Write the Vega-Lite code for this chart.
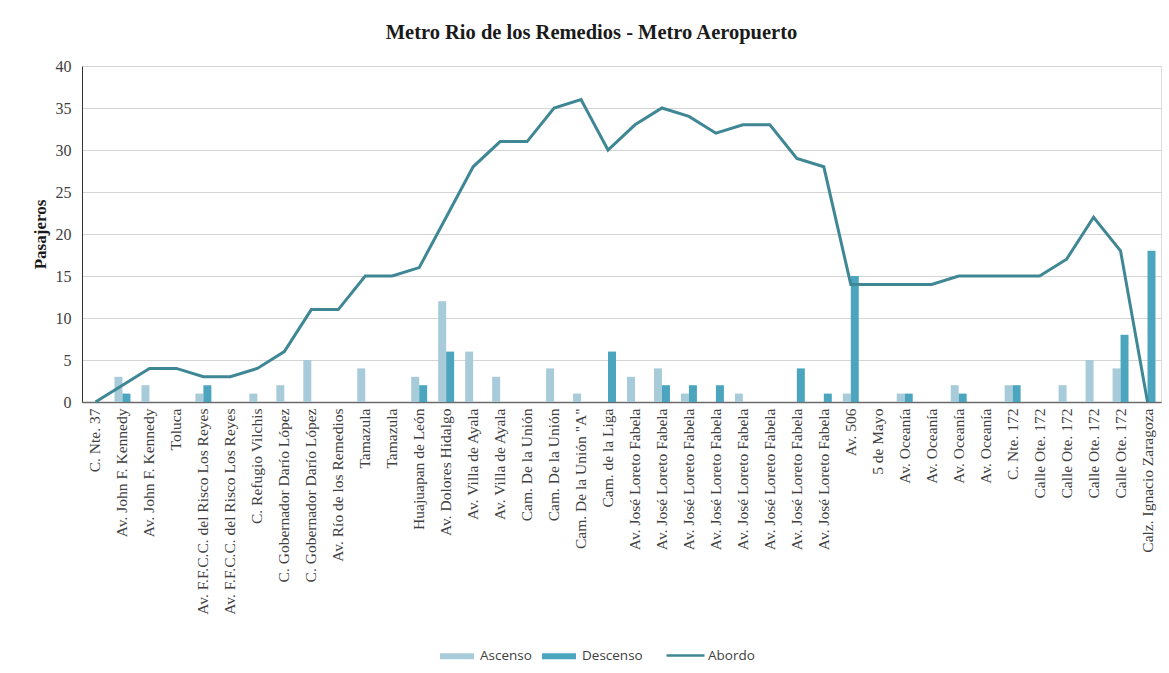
{
  "$schema": "https://vega.github.io/schema/vega-lite/v6.json",
  "width": 1079,
  "height": 336,
  "autosize": {"type": "none"},
  "padding": {"left": 82, "top": 66, "right": 8, "bottom": 271},
  "background": "white",
  "title": {"text": "Metro Rio de los Remedios  - Metro Aeropuerto", "font": "Liberation Serif", "fontSize": 20.5, "fontWeight": "bold", "color": "#1a1a1a", "anchor": "middle", "frame": "group", "dx": -30, "offset": -1, "baseline": "alphabetic"},
  "data": {"values": [
    {"i": 1, "estacion": "C. Nte. 37", "Ascenso": 0, "Descenso": 0, "Abordo": 0},
    {"i": 2, "estacion": "Av. John F. Kennedy", "Ascenso": 3, "Descenso": 1, "Abordo": 2},
    {"i": 3, "estacion": "Av. John F. Kennedy", "Ascenso": 2, "Descenso": 0, "Abordo": 4},
    {"i": 4, "estacion": "Toluca", "Ascenso": 0, "Descenso": 0, "Abordo": 4},
    {"i": 5, "estacion": "Av. F.F.C.C. del Risco Los Reyes", "Ascenso": 1, "Descenso": 2, "Abordo": 3},
    {"i": 6, "estacion": "Av. F.F.C.C. del Risco Los Reyes", "Ascenso": 0, "Descenso": 0, "Abordo": 3},
    {"i": 7, "estacion": "C. Refugio Vilchis", "Ascenso": 1, "Descenso": 0, "Abordo": 4},
    {"i": 8, "estacion": "C. Gobernador Darío López", "Ascenso": 2, "Descenso": 0, "Abordo": 6},
    {"i": 9, "estacion": "C. Gobernador Darío López", "Ascenso": 5, "Descenso": 0, "Abordo": 11},
    {"i": 10, "estacion": "Av. Río de los Remedios", "Ascenso": 0, "Descenso": 0, "Abordo": 11},
    {"i": 11, "estacion": "Tamazula", "Ascenso": 4, "Descenso": 0, "Abordo": 15},
    {"i": 12, "estacion": "Tamazula", "Ascenso": 0, "Descenso": 0, "Abordo": 15},
    {"i": 13, "estacion": "Huajuapan de León", "Ascenso": 3, "Descenso": 2, "Abordo": 16},
    {"i": 14, "estacion": "Av. Dolores Hidalgo", "Ascenso": 12, "Descenso": 6, "Abordo": 22},
    {"i": 15, "estacion": "Av. Villa de Ayala", "Ascenso": 6, "Descenso": 0, "Abordo": 28},
    {"i": 16, "estacion": "Av. Villa de Ayala", "Ascenso": 3, "Descenso": 0, "Abordo": 31},
    {"i": 17, "estacion": "Cam. De la Unión", "Ascenso": 0, "Descenso": 0, "Abordo": 31},
    {"i": 18, "estacion": "Cam. De la Unión", "Ascenso": 4, "Descenso": 0, "Abordo": 35},
    {"i": 19, "estacion": "Cam. De la Unión \"A\"", "Ascenso": 1, "Descenso": 0, "Abordo": 36},
    {"i": 20, "estacion": "Cam. de la Liga", "Ascenso": 0, "Descenso": 6, "Abordo": 30},
    {"i": 21, "estacion": "Av. José Loreto Fabela", "Ascenso": 3, "Descenso": 0, "Abordo": 33},
    {"i": 22, "estacion": "Av. José Loreto Fabela", "Ascenso": 4, "Descenso": 2, "Abordo": 35},
    {"i": 23, "estacion": "Av. José Loreto Fabela", "Ascenso": 1, "Descenso": 2, "Abordo": 34},
    {"i": 24, "estacion": "Av. José Loreto Fabela", "Ascenso": 0, "Descenso": 2, "Abordo": 32},
    {"i": 25, "estacion": "Av. José Loreto Fabela", "Ascenso": 1, "Descenso": 0, "Abordo": 33},
    {"i": 26, "estacion": "Av. José Loreto Fabela", "Ascenso": 0, "Descenso": 0, "Abordo": 33},
    {"i": 27, "estacion": "Av. José Loreto Fabela", "Ascenso": 0, "Descenso": 4, "Abordo": 29},
    {"i": 28, "estacion": "Av. José Loreto Fabela", "Ascenso": 0, "Descenso": 1, "Abordo": 28},
    {"i": 29, "estacion": "Av. 506", "Ascenso": 1, "Descenso": 15, "Abordo": 14},
    {"i": 30, "estacion": "5 de Mayo", "Ascenso": 0, "Descenso": 0, "Abordo": 14},
    {"i": 31, "estacion": "Av. Oceanía", "Ascenso": 1, "Descenso": 1, "Abordo": 14},
    {"i": 32, "estacion": "Av. Oceanía", "Ascenso": 0, "Descenso": 0, "Abordo": 14},
    {"i": 33, "estacion": "Av. Oceanía", "Ascenso": 2, "Descenso": 1, "Abordo": 15},
    {"i": 34, "estacion": "Av. Oceanía", "Ascenso": 0, "Descenso": 0, "Abordo": 15},
    {"i": 35, "estacion": "C. Nte. 172", "Ascenso": 2, "Descenso": 2, "Abordo": 15},
    {"i": 36, "estacion": "Calle Ote. 172", "Ascenso": 0, "Descenso": 0, "Abordo": 15},
    {"i": 37, "estacion": "Calle Ote. 172", "Ascenso": 2, "Descenso": 0, "Abordo": 17},
    {"i": 38, "estacion": "Calle Ote. 172", "Ascenso": 5, "Descenso": 0, "Abordo": 22},
    {"i": 39, "estacion": "Calle Ote. 172", "Ascenso": 4, "Descenso": 8, "Abordo": 18},
    {"i": 40, "estacion": "Calz. Ignacio Zaragoza", "Ascenso": 0, "Descenso": 18, "Abordo": 0}
  ]},
  "encoding": {
    "x": {
      "field": "i", "type": "ordinal",
      "scale": {"paddingInner": 0, "paddingOuter": 0},
      "axis": {
        "title": null, "labelAngle": -90, "ticks": false, "grid": false,
        "domainColor": "#6b6b6b", "domainWidth": 1.5,
        "labelFont": "Liberation Serif", "labelFontSize": 15.5, "labelColor": "#404040",
        "labelPadding": 6, "labelLimit": 300,
        "labelExpr": "['C. Nte. 37','Av. John F. Kennedy','Av. John F. Kennedy','Toluca','Av. F.F.C.C. del Risco Los Reyes','Av. F.F.C.C. del Risco Los Reyes','C. Refugio Vilchis','C. Gobernador Darío López','C. Gobernador Darío López','Av. Río de los Remedios','Tamazula','Tamazula','Huajuapan de León','Av. Dolores Hidalgo','Av. Villa de Ayala','Av. Villa de Ayala','Cam. De la Unión','Cam. De la Unión','Cam. De la Unión \"A\"','Cam. de la Liga','Av. José Loreto Fabela','Av. José Loreto Fabela','Av. José Loreto Fabela','Av. José Loreto Fabela','Av. José Loreto Fabela','Av. José Loreto Fabela','Av. José Loreto Fabela','Av. José Loreto Fabela','Av. 506','5 de Mayo','Av. Oceanía','Av. Oceanía','Av. Oceanía','Av. Oceanía','C. Nte. 172','Calle Ote. 172','Calle Ote. 172','Calle Ote. 172','Calle Ote. 172','Calz. Ignacio Zaragoza'][datum.value - 1]"
      }
    }
  },
  "layer": [
    {
      "transform": [{"fold": ["Ascenso", "Descenso"], "as": ["serie", "valor"]}],
      "mark": {"type": "bar"},
      "encoding": {
        "xOffset": {"field": "serie", "type": "nominal", "scale": {"paddingInner": 0, "paddingOuter": 0.69}},
        "y": {
          "field": "valor", "type": "quantitative",
          "scale": {"domain": [0, 40]},
          "axis": {
            "title": "Pasajeros", "values": [0, 5, 10, 15, 20, 25, 30, 35, 40],
            "ticks": false, "grid": true, "gridColor": "#d4d4d4",
            "domainColor": "#333333", "labelPadding": 11,
            "labelFont": "Liberation Serif", "labelFontSize": 16, "labelColor": "#404040",
            "titleFont": "Liberation Serif", "titleFontSize": 17, "titleFontWeight": "bold", "titleColor": "#1a1a1a", "titlePadding": 6
          }
        },
        "color": {
          "field": "serie", "type": "nominal",
          "scale": {"domain": ["Ascenso", "Descenso"], "range": ["#a8cbd9", "#4ba5bf"]},
          "legend": {
            "title": null, "orient": "none", "legendX": 358, "legendY": 573, "direction": "horizontal",
            "symbolType": "M-1,-0.18H1V0.18H-1Z", "symbolSize": 1156, "symbolStrokeWidth": 0,
            "labelFont": "Open Sans", "labelFontSize": 13.5, "labelColor": "#404040",
            "labelOffset": 6, "columnPadding": 10, "padding": 0
          }
        }
      }
    },
    {
      "mark": {"type": "line", "strokeWidth": 3},
      "encoding": {
        "y": {
          "field": "Abordo", "type": "quantitative",
          "axis": {
            "title": "Pasajeros", "values": [0, 5, 10, 15, 20, 25, 30, 35, 40],
            "ticks": false, "grid": true, "gridColor": "#d4d4d4",
            "domainColor": "#333333", "labelPadding": 11,
            "labelFont": "Liberation Serif", "labelFontSize": 16, "labelColor": "#404040",
            "titleFont": "Liberation Serif", "titleFontSize": 17, "titleFontWeight": "bold", "titleColor": "#1a1a1a", "titlePadding": 6
          }
        },
        "stroke": {
          "datum": "Abordo",
          "scale": {"domain": ["Abordo"], "range": ["#3f8794"]},
          "legend": {
            "title": null, "orient": "none", "legendX": 583, "legendY": 569, "direction": "horizontal",
            "symbolType": "stroke", "symbolSize": 1444, "symbolStrokeWidth": 2.5,
            "labelFont": "Open Sans", "labelFontSize": 13.5, "labelColor": "#404040",
            "labelOffset": 2, "padding": 0
          }
        }
      }
    }
  ]
}
